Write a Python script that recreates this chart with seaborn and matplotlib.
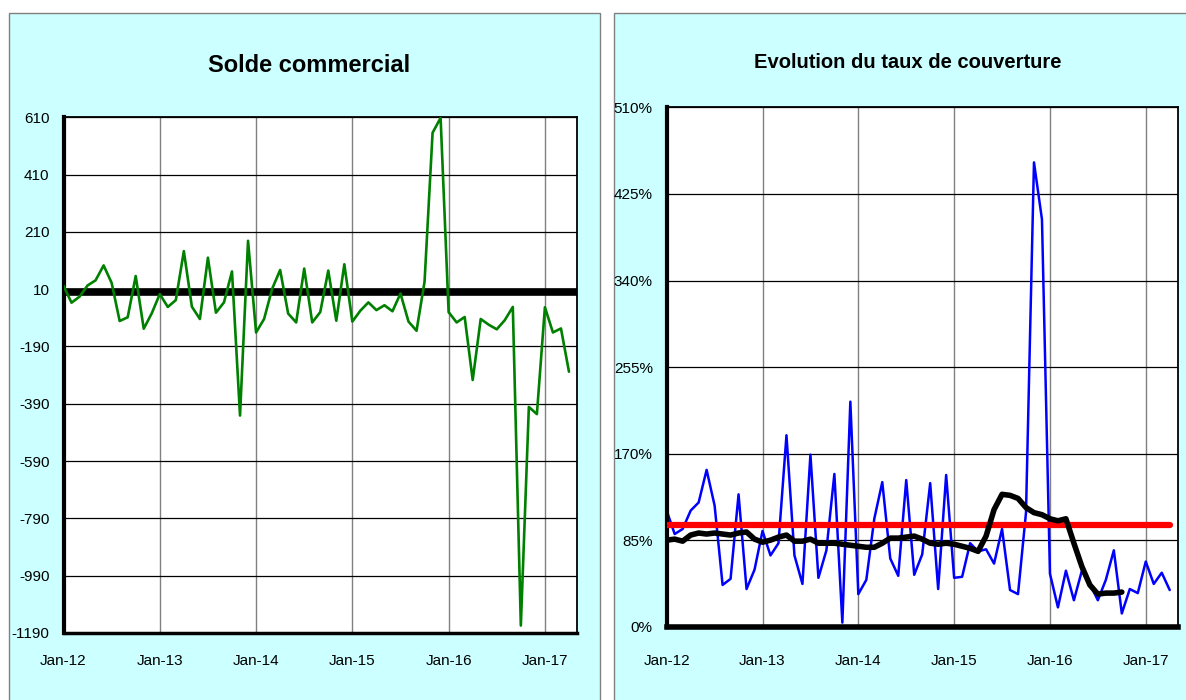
import matplotlib
matplotlib.use("Agg")
import matplotlib.pyplot as plt
from matplotlib.patches import Rectangle
import seaborn as sns
import pandas as pd

# Donnees mensuelles, Jan-12 = mois 0
mois = list(range(64))

solde = [22, -37, -16, 23, 41, 93, 32, -101, -88, 56, -128, -74,
         -7, -52, -28, 143, -51, -94, 120, -72, -36, 72, -431, 179,
         -141, -94, 11, 77, -75, -106, 82, -106, -70, 75, -100, 97,
         -103, -65, -36, -63, -46, -67, -5, -103, -135, 36, 556, 608,
         -70, -106, -87, -307, -94, -114, -130, -98, -52, -1164, -401, -426,
         -53, -141, -127, -278]

taux = [114, 91, 96, 114, 122, 154, 119, 41, 47, 130, 37, 56,
        94, 70, 82, 188, 70, 42, 169, 48, 75, 150, 4, 221,
        32, 46, 106, 142, 67, 50, 144, 51, 71, 141, 37, 149,
        48, 49, 82, 74, 76, 62, 96, 36, 32, 112, 456, 400,
        52, 19, 55, 26, 55, 42, 26, 46, 75, 13, 37, 33,
        64, 42, 53, 36]

taux_moyen = [85, 86, 84, 90, 92, 91, 92, 91, 90, 92, 93, 86,
              83, 85, 88, 90, 84, 84, 86, 82, 82, 82, 81, 80,
              79, 78, 78, 82, 87, 87, 88, 89, 86, 82, 81, 82,
              81, 79, 77, 74, 89, 115, 130, 129, 126, 117, 112, 110,
              106, 104, 106, 82, 59, 41, 32, 33, 33, 34]

seuil = 100
zero = 0

ticks_x = [0, 12, 24, 36, 48, 60]
labels_x = ['Jan-12', 'Jan-13', 'Jan-14', 'Jan-15', 'Jan-16', 'Jan-17']
ticks_solde = [610, 410, 210, 10, -190, -390, -590, -790, -990, -1190]
ticks_taux = [0, 85, 170, 255, 340, 425, 510]

df_solde = pd.DataFrame({'mois': mois, 'solde': solde})
df_taux = pd.DataFrame({'mois': mois, 'taux': taux, 'seuil': [seuil] * len(mois)})
df_moyen = pd.DataFrame({'mois': mois[:len(taux_moyen)], 'moyenne': taux_moyen})

sns.set_style("white")
plt.rcParams['font.family'] = ['Liberation Sans Narrow', 'Liberation Sans', 'DejaVu Sans']
plt.rcParams['text.color'] = 'black'
plt.rcParams['xtick.color'] = 'black'
plt.rcParams['ytick.color'] = 'black'

W, H = 1186, 700
fig = plt.figure(figsize=(W / 100, H / 100), dpi=100)
fig.patch.set_facecolor('white')

cyan = '#CCFFFF'
fig.patches.append(Rectangle((9 / W, -0.01), (600 - 9) / W, 1.01 - 13 / H,
                             transform=fig.transFigure, facecolor=cyan,
                             edgecolor='#808080', lw=1, zorder=-5))
fig.patches.append(Rectangle((614 / W, -0.01), 0.5, 1.01 - 13 / H,
                             transform=fig.transFigure, facecolor=cyan,
                             edgecolor='#808080', lw=1, zorder=-5))


def habiller(ax, bas_lw):
    ax.set_facecolor('white')
    ax.yaxis.grid(True, color='black', lw=0.9)
    ax.xaxis.grid(True, color='#808080', lw=1)
    ax.set_axisbelow(True)
    for s in ['top', 'right']:
        ax.spines[s].set_color('black')
        ax.spines[s].set_linewidth(1.3)
    ax.spines['left'].set_color('black')
    ax.spines['left'].set_linewidth(3)
    ax.spines['bottom'].set_color('black')
    ax.spines['bottom'].set_linewidth(bas_lw)
    ax.set_xlim(0, 64)
    ax.set_xticks(ticks_x)
    ax.set_xticklabels(labels_x)
    ax.set_xlabel('')
    ax.set_ylabel('')
    ax.tick_params(axis='y', direction='out', length=3, width=2.5, labelsize=11, pad=7)


# --- Solde commercial ---
ax1 = fig.add_axes([63.5 / W, 1 - 633 / H, (577 - 63.5) / W, (633 - 117.3) / H])
ax1.axhline(zero, color='black', lw=5.5, zorder=2)
sns.lineplot(data=df_solde, x='mois', y='solde', ax=ax1, color='#008000', lw=1.9, zorder=3)
habiller(ax1, 2.5)
ax1.set_ylim(-1190, 610)
ax1.set_yticks(ticks_solde)
ax1.set_yticklabels([str(v) for v in ticks_solde])
ax1.tick_params(axis='x', length=0, labelsize=11, pad=15)
fig.text(309 / W, 1 - 65 / H, 'Solde commercial', ha='center', va='center',
         fontsize=17, fontweight='bold')

# --- Taux de couverture ---
ax2 = fig.add_axes([666.7 / W, 1 - 626.7 / H, (1177.7 - 666.7) / W, (626.7 - 107.4) / H])
sns.lineplot(data=df_taux, x='mois', y='taux', ax=ax2, color='#0000FF', lw=1.8, zorder=2)
sns.lineplot(data=df_taux, x='mois', y='seuil', ax=ax2, color='#FF0000', lw=4.5, zorder=3)
sns.lineplot(data=df_moyen, x='mois', y='moyenne', ax=ax2, color='black', lw=4, zorder=4)
habiller(ax2, 4)
ax2.set_ylim(0, 510)
ax2.set_yticks(ticks_taux)
ax2.set_yticklabels([f'{v}%' for v in ticks_taux])
ax2.tick_params(axis='x', direction='in', length=4, width=2.5, labelsize=11, pad=20)
fig.text(908 / W, 1 - 63 / H, 'Evolution du taux de couverture', ha='center', va='center',
         fontsize=14.5, fontweight='bold')

fig.savefig('out.png', dpi=100, facecolor=fig.get_facecolor())
